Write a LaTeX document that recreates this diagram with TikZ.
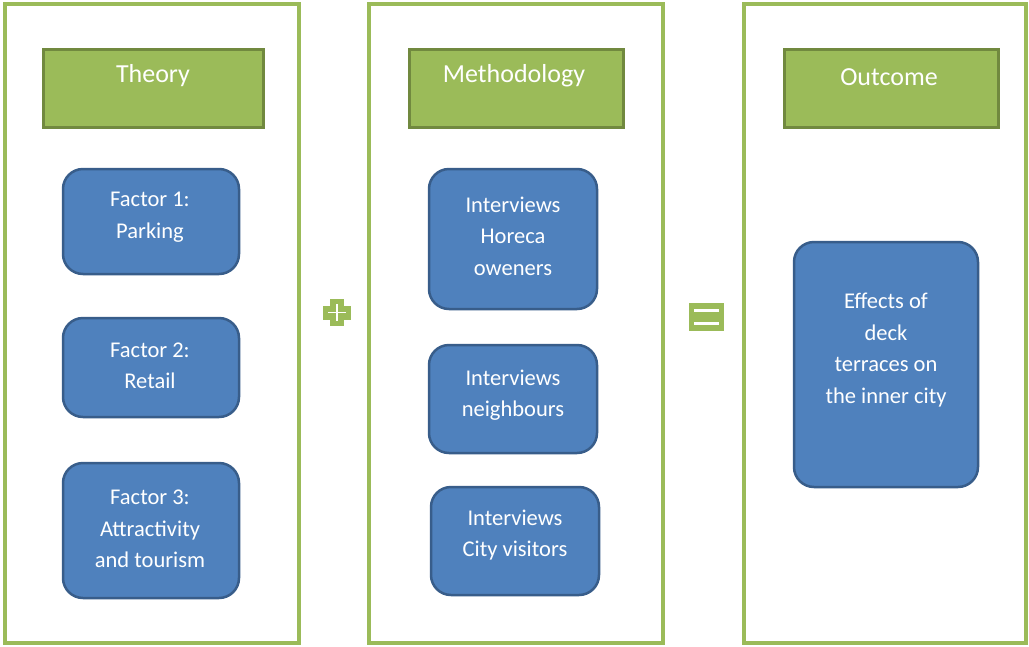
\documentclass[tikz,border=0pt]{standalone}
\usepackage{fontspec}
\setmainfont{Carlito}
\begin{document}
\definecolor{panelgreen}{HTML}{9BBB59}
\definecolor{headborder}{HTML}{71893F}
\definecolor{boxblue}{HTML}{4F81BD}
\definecolor{boxborder}{HTML}{385D8A}
\begin{tikzpicture}[x=1pt,y=-1pt,
  panel/.style={draw=panelgreen,line width=3.5pt,fill=white},
  header/.style={draw=headborder,fill=panelgreen,line width=3pt,inner sep=0pt,anchor=north west},
  headtext/.style={text=white,font=\fontsize{26}{30}\selectfont},
  item/.style={draw=boxborder,fill=boxblue,line width=2.5pt,rounded corners=20pt},
  itemtext/.style={text=white,align=center,font=\fontsize{22.5}{31.5}\selectfont}]
\useasboundingbox (0,0) rectangle (1029,646);
% column frames
\draw[panel] (5,4) rectangle (299,643);
\draw[panel] (369,4) rectangle (663,643);
\draw[panel] (744,4) rectangle (1026,643);
% column headings
\node[header,minimum width=220pt,minimum height=78pt] (theory) at (42,48) {};
\node[headtext] (theorylbl) at (153,76) {Theory};
\node[header,minimum width=214pt,minimum height=78pt] (method) at (408,48) {};
\node[headtext] (methodlbl) at (514,76) {Methodology};
\node[header,minimum width=214pt,minimum height=78pt] (outcome) at (783,48) {};
\node[headtext] (outcomelbl) at (889,77) {Outcome};
% theory factors
\draw[item] (63,169) rectangle (239,274);
\node[itemtext] (f1) at (150,217) {Factor 1:\\Parking};
\draw[item] (63,318) rectangle (239,417);
\node[itemtext] (f2) at (150,366) {Factor 2:\\Retail};
\draw[item] (63,463) rectangle (239,598);
\node[itemtext] (f3) at (150,529) {Factor 3:\\Attractivity\\and tourism};
% interviews
\draw[item] (429,169) rectangle (597,309);
\node[itemtext] (m1) at (513,236) {Interviews\\Horeca\\oweners};
\draw[item] (429,345) rectangle (597,453);
\node[itemtext] (m2) at (513,395) {Interviews\\neighbours};
\draw[item] (431,487) rectangle (599,595);
\node[itemtext] (m3) at (515,535) {Interviews\\City visitors};
% outcome
\draw[item] (794,242) rectangle (978,487);
\node[itemtext] (o1) at (886,350) {Effects of\\deck\\terraces on\\the inner city};
% plus sign
\fill[panelgreen] (330,299) rectangle (344,326);
\fill[panelgreen] (323,305.5) rectangle (351,319.5);
\draw[white,line width=1.2pt] (337,304) -- (337,321) (328,312.5) -- (346,312.5);
% equals sign
\fill[panelgreen] (689,303) rectangle (724,331);
\fill[white] (694,309) rectangle (719,312);
\fill[white] (694,322) rectangle (719,325);
\end{tikzpicture}
\end{document}
